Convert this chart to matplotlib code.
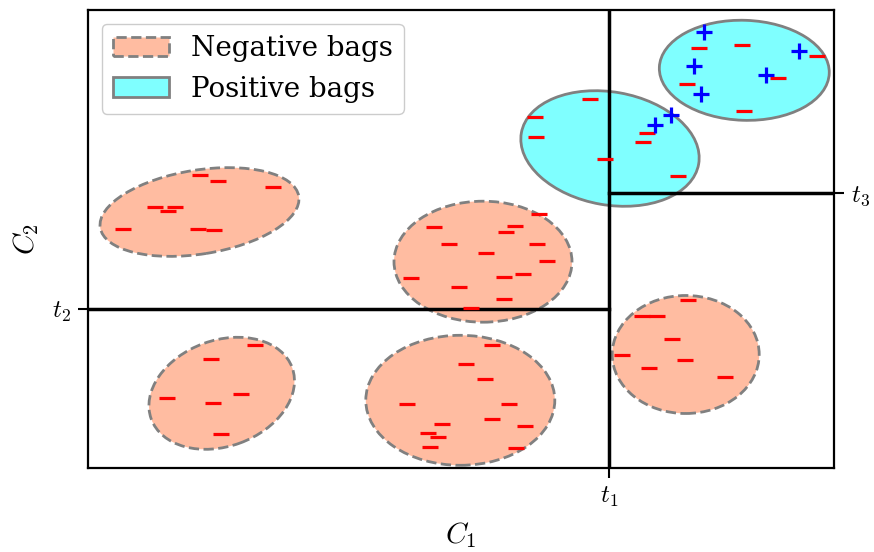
import matplotlib
matplotlib.use("Agg")
import matplotlib.pyplot as plt
from matplotlib.patches import Ellipse, Patch
import numpy as np

plt.rcParams['font.family'] = ['DejaVu Serif']
plt.rcParams['mathtext.fontset'] = 'cm'

# ---- data (pixel-derived units: x=(px-88)/10, y=(468-py)/10) ----
def cx(px): return [(p - 88) / 10 for p in px]
def cy(py): return [(468 - p) / 10 for p in py]

# Negative bags: center x, center y, width, height, angle
neg_cx = cx([199.5, 483.0, 221.7, 460.3, 685.7])
neg_cy = cy([212.0, 261.7, 393.3, 400.3, 354.5])
neg_w = [20.1, 17.8, 15.0, 18.9, 14.7]
neg_h = [8.4, 12.1, 10.6, 13.0, 11.8]
neg_ang = [9, 0, 20, 0, 0]

# Positive bags
pos_cx = cx([610.0, 744.3])
pos_cy = cy([148.5, 70.3])
pos_w = [18.0, 17.0]
pos_h = [11.3, 10.0]
pos_ang = [-10, -2]

# negative instances
neg_x = cx([200.3, 218, 273, 155.3, 174.7, 168.3, 122.7, 197.7, 213.7,
            539.3, 434, 515.3, 506.3, 448.7, 537.3, 486.3, 547, 523.3, 411.3, 503.7, 459.3, 503.7, 470.7,
            255.3, 210.7, 241.3, 167.3, 213, 221,
            492.3, 465.7, 485.3, 407.3, 509.3, 492.3, 442.3, 524.7, 428.3, 438, 429.7, 515.7,
            688.3, 642, 657.3, 671.7, 621.7, 684.7, 649, 724.7,
            590, 535, 647, 536, 643, 605, 678,
            699, 742, 817, 778, 687, 744])
neg_y = cy([175, 181.3, 187, 206.7, 206.7, 210.7, 228.7, 229.3, 230.3,
            213.7, 227, 226, 231.7, 244.3, 244.3, 252.7, 261, 273.7, 278.3, 277.3, 287.3, 299.3, 308.3,
            345.3, 358.7, 394, 398, 403.3, 434.3,
            345.3, 363.7, 379.3, 404.3, 403.7, 419.3, 424, 426, 432.7, 437.3, 446.7, 448.3,
            300.3, 315.7, 316, 338.7, 355.3, 360, 368.3, 377,
            98.7, 116.7, 133, 137, 142, 159, 176,
            48, 45, 56, 78, 84, 111])

# positive instances
pos_x = cx([671, 655, 704, 799, 694, 766, 701])
pos_y = cy([115, 125, 32, 51, 66, 75, 94])

# thresholds
t1 = (609 - 88) / 10
t2 = (468 - 309) / 10
t3 = (468 - 193) / 10

fig = plt.figure(figsize=(8.74, 5.52), dpi=100)
ax = fig.add_axes([88 / 874, 84 / 552, 746 / 874, 458 / 552])
ax.set_xlim(0, 74.6)
ax.set_ylim(0, 45.8)

neg_face = (1.0, 0.627, 0.478, 0.7)
pos_face = (0.0, 1.0, 1.0, 0.5)

for x, y, w, h, a in zip(neg_cx, neg_cy, neg_w, neg_h, neg_ang):
    ax.add_patch(Ellipse((x, y), w, h, angle=a, facecolor=neg_face,
                         edgecolor='gray', linewidth=2, linestyle='--', zorder=1))
for x, y, w, h, a in zip(pos_cx, pos_cy, pos_w, pos_h, pos_ang):
    ax.add_patch(Ellipse((x, y), w, h, angle=a, facecolor=pos_face,
                         edgecolor='gray', linewidth=2, linestyle='-', zorder=1))

ax.axvline(t1, color='black', linewidth=2.5, zorder=2)
ax.plot([0, t1], [t2, t2], color='black', linewidth=2.5, zorder=2)
ax.plot([t1, 74.6], [t3, t3], color='black', linewidth=2.5, zorder=2)

ax.plot(neg_x, neg_y, linestyle='none', marker='_', color='red',
        markersize=12, markeredgewidth=2.3, zorder=3)
ax.plot(pos_x, pos_y, linestyle='none', marker='+', color='blue',
        markersize=12, markeredgewidth=2.3, zorder=3)

for s in ax.spines.values():
    s.set_linewidth(1.6)

ax.set_xticks([t1])
ax.set_xticklabels([r'$t_1$'], fontsize=18)
ax.set_yticks([t2])
ax.set_yticklabels([r'$t_2$'], fontsize=18)
ax.tick_params(axis='both', length=7, width=1.5, pad=5)

ax2 = ax.twinx()
ax2.set_ylim(0, 45.8)
ax2.set_yticks([t3])
ax2.set_yticklabels([r'$t_3$'], fontsize=18)
ax2.tick_params(axis='y', length=7, width=1.5, pad=5)
for s in ax2.spines.values():
    s.set_visible(False)

ax.set_xlabel(r'$C_1$', fontsize=21, labelpad=8)
ax.set_ylabel(r'$C_2$', fontsize=21, labelpad=8)

handles = [Patch(facecolor=neg_face, edgecolor='gray', linestyle='--', linewidth=2),
           Patch(facecolor=pos_face, edgecolor='gray', linewidth=2)]
ax.legend(handles, ['Negative bags', 'Positive bags'], loc='upper left',
          fontsize=20, framealpha=1, borderaxespad=0.5)

fig.savefig('out.png', dpi=100)
